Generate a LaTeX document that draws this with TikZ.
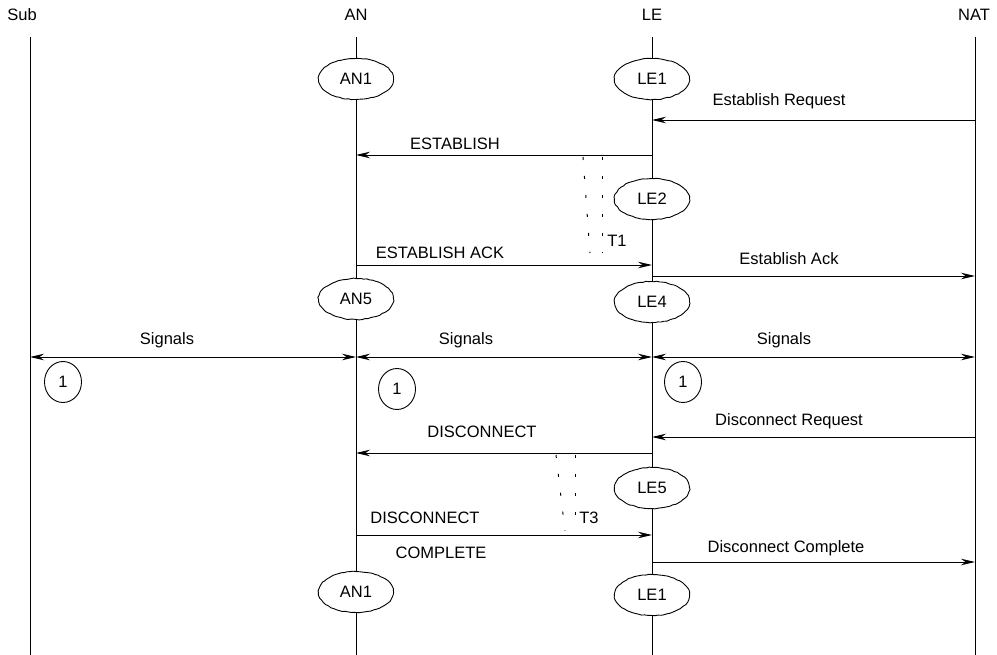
\documentclass[tikz,border=0pt]{standalone}
\usepackage{fontspec}
\setmainfont{Liberation Sans}
\usetikzlibrary{arrows.meta,shapes.geometric,decorations.pathmorphing}

\begin{document}
\begin{tikzpicture}[x=1pt,y=-1pt,>={Stealth[length=14pt,width=6.5pt]},
  font=\fontsize{16.5}{19}\selectfont,line width=0.9pt,
  state/.style={ellipse,draw,fill=white,minimum width=75pt,minimum height=41pt,inner sep=0pt,
    decorate,decoration={random steps,segment length=3pt,amplitude=0.4pt}},
  markone/.style={ellipse,draw,fill=white,minimum width=37pt,minimum height=41pt,inner sep=0pt},
  timer/.style={dash pattern=on 3pt off 16pt,line width=1pt}]
\useasboundingbox (0,0) rectangle (997,655);
% lifelines
\node (sublbl) at (22,15) {Sub};
\node (anlbl) at (356,15) {AN};
\node (lelbl) at (652,15) {LE};
\node (natlbl) at (974,15) {NAT};
\coordinate (sub) at (30,37);
\coordinate (an) at (356,37);
\coordinate (le) at (652,37);
\coordinate (nat) at (975,37);
\foreach \l in {sub,an,le,nat}
  \draw (\l) -- (\l |- 0,655);
% states
\node[state] (an1) at (356,79) {AN1};
\node[state] (le1) at (652,79) {LE1};
\node[state] (le2) at (652,199) {LE2};
\node[state] (an5) at (356,299) {AN5};
\node[state] (le4) at (652,302) {LE4};
\node[state] (le5) at (652,488) {LE5};
\node[state] (an1b) at (356,592) {AN1};
\node[state] (le1b) at (652,595) {LE1};
\node[markone] (suba) at (63,382) {1};
\node[markone] (ana) at (397,389) {1};
\node[markone] (lea) at (683,382) {1};
% establish
\draw[->] (nat |- 0,120) -- (le |- 0,120);
\node (estreq) at (779,101) {Establish Request};
\draw[->] (le |- 0,155) -- (an |- 0,155);
\node (est) at (455,144) {ESTABLISH};
\draw[timer] (583,157) -- (590,253);
\draw[timer] (602,157) -- (602,253);
\node (tone) at (617,241) {T1};
\draw[->] (an |- 0,265) -- (le |- 0,265);
\node (estack) at (440,253) {ESTABLISH ACK};
\draw[->] (le |- 0,276) -- (nat |- 0,276);
\node (estackn) at (789,259) {Establish Ack};
% signals
\draw[<->] (sub |- 0,357) -- (an |- 0,357);
\draw[<->] (an |- 0,357) -- (le |- 0,357);
\draw[<->] (le |- 0,357) -- (nat |- 0,357);
\node (siga) at (167,340) {Signals};
\node (sigb) at (466,340) {Signals};
\node (sigc) at (784,340) {Signals};
% disconnect
\draw[->] (nat |- 0,437) -- (le |- 0,437);
\node (discreq) at (789,421) {Disconnect Request};
\draw[->] (le |- 0,453) -- (an |- 0,453);
\node (disc) at (482,432) {DISCONNECT};
\draw[timer] (556,455) -- (565,531);
\draw[timer] (575,455) -- (575,531);
\node (tthree) at (589,518) {T3};
\draw[->] (an |- 0,535) -- (le |- 0,535);
\node (disccpl) at (425,518) {DISCONNECT};
\node (cpl) at (441,553) {COMPLETE};
\draw[->] (le |- 0,562) -- (nat |- 0,562);
\node (disccpln) at (786,548) {Disconnect Complete};
\end{tikzpicture}
\end{document}
